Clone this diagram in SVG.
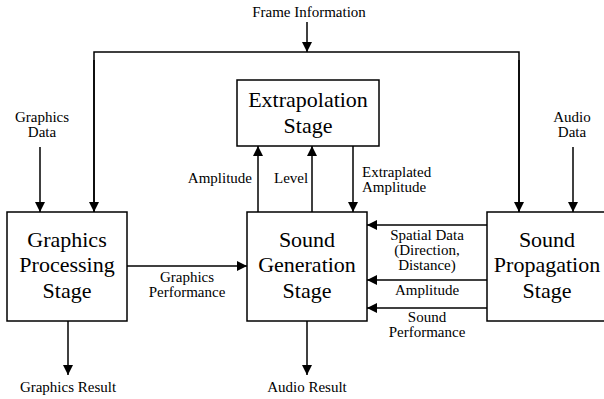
<svg xmlns="http://www.w3.org/2000/svg" width="604" height="399" viewBox="0 0 604 399">
<defs>
<marker id="ah" viewBox="0 0 10 10" refX="10" refY="5" markerWidth="10" markerHeight="10" markerUnits="userSpaceOnUse" orient="auto">
<path d="M0,0 L10,5 L0,10 z" fill="#000"/>
</marker>
<style>
text{font-family:'Liberation Serif','Times New Roman',Times,serif;fill:#000}
.box{fill:#fff;stroke:#000;stroke-width:1.5}
.big{font-size:22px;text-anchor:middle}
.sm{font-size:15px}
.c{text-anchor:middle}
.e{text-anchor:end}
.ln{fill:none;stroke:#000;stroke-width:1.5}
.ar{fill:none;stroke:#000;stroke-width:1.5;marker-end:url(#ah)}
</style>
</defs>
<g id="connectors">
<line class="ar" x1="307" y1="22" x2="307" y2="52"/>
<polyline class="ln" points="94,212 94,52 519,52 519,212"/>
<line class="ar" x1="94" y1="60" x2="94" y2="212"/>
<line class="ar" x1="519" y1="60" x2="519" y2="212"/>
<line class="ar" x1="40" y1="147" x2="40" y2="212"/>
<line class="ar" x1="573" y1="147" x2="573" y2="212"/>
<line class="ar" x1="127" y1="266" x2="247" y2="266"/>
<line class="ar" x1="258" y1="212" x2="258" y2="146"/>
<line class="ar" x1="312" y1="212" x2="312" y2="146"/>
<line class="ar" x1="353" y1="146" x2="353" y2="212"/>
<line class="ar" x1="487" y1="225" x2="367" y2="225"/>
<line class="ar" x1="487" y1="280" x2="367" y2="280"/>
<line class="ar" x1="487" y1="308" x2="367" y2="308"/>
<line class="ar" x1="68" y1="321" x2="68" y2="375"/>
<line class="ar" x1="307" y1="321" x2="307" y2="375"/>
<text class="sm c" x="309" y="17" font-family="Liberation Serif, serif">Frame Information</text>
<text class="sm c" x="42" y="122">Graphics</text>
<text class="sm c" x="42" y="137">Data</text>
<text class="sm c" x="572" y="122">Audio</text>
<text class="sm c" x="572" y="137">Data</text>
<text class="sm e" x="252" y="183">Amplitude</text>
<text class="sm" x="274" y="183">Level</text>
<text class="sm" x="362" y="177">Extraplated</text>
<text class="sm" x="362" y="192">Amplitude</text>
<text class="sm c" x="187" y="282">Graphics</text>
<text class="sm c" x="187" y="297">Performance</text>
<text class="sm c" x="427" y="240">Spatial Data</text>
<text class="sm c" x="427" y="255">(Direction,</text>
<text class="sm c" x="427" y="270">Distance)</text>
<text class="sm c" x="427" y="295">Amplitude</text>
<text class="sm c" x="427" y="322">Sound</text>
<text class="sm c" x="427" y="337">Performance</text>
<text class="sm c" x="68" y="392">Graphics Result</text>
<text class="sm c" x="307" y="392">Audio Result</text>
</g>
<g id="extrapolation">
<rect class="box" x="237" y="80" width="142" height="66"/>
<text class="big" x="308" y="107">Extrapolation</text>
<text class="big" x="308" y="133">Stage</text>
</g>
<g id="graphics">
<rect class="box" x="7" y="212" width="120" height="109"/>
<text class="big" x="67" y="247">Graphics</text>
<text class="big" x="67" y="272">Processing</text>
<text class="big" x="67" y="298">Stage</text>
</g>
<g id="soundgen">
<rect class="box" x="247" y="212" width="120" height="109"/>
<text class="big" x="307" y="247">Sound</text>
<text class="big" x="307" y="272">Generation</text>
<text class="big" x="307" y="298">Stage</text>
</g>
<g id="soundprop">
<rect class="box" x="487" y="212" width="125" height="109"/>
<text class="big" x="547" y="247">Sound</text>
<text class="big" x="547" y="272">Propagation</text>
<text class="big" x="547" y="298">Stage</text>
</g>
</svg>
